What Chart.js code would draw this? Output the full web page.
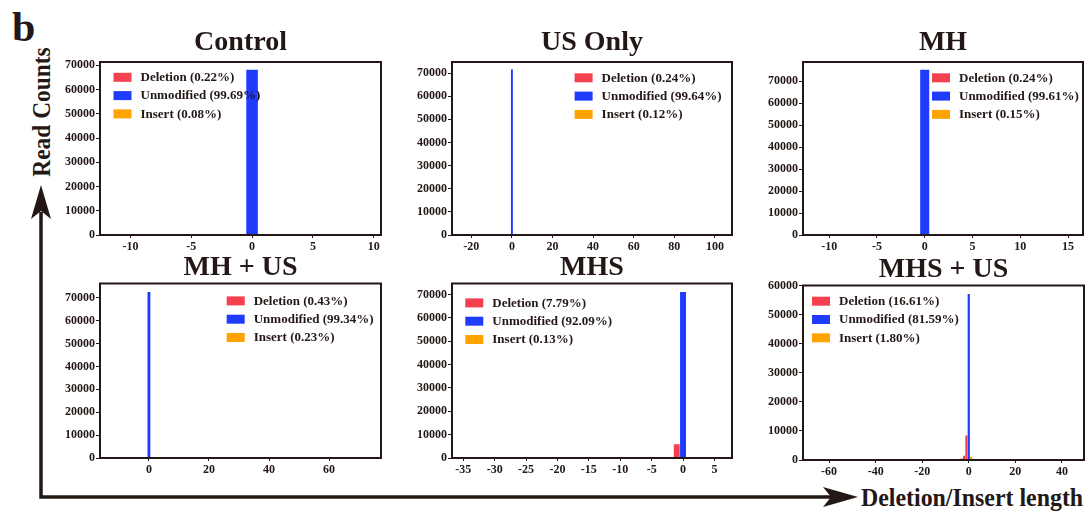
<!DOCTYPE html>
<html>
<head>
<meta charset="utf-8">
<script src="https://cdn.jsdelivr.net/npm/chart.js@4.4.1/dist/chart.umd.min.js"></script>
<style>
  body { margin: 0; background: #fff; }
  #page { position: relative; width: 1087px; height: 511px; overflow: hidden;
          font-family: 'Liberation Serif', 'Times New Roman', serif; font-weight: bold; color: #231815; }
  canvas { position: absolute; }
  .lbl { position: absolute; white-space: nowrap; line-height: 1; }
  #letter { left: 12px; top: 6px; font-size: 42px; }
  #yTitle { left: 42px; top: 112px; font-size: 26px; transform: translate(-50%, -50%) rotate(-90deg) scaleX(0.9); }
  #xTitle { left: 861px; top: 485px; font-size: 25px; transform: scaleX(0.955); transform-origin: left center; }
  svg { position: absolute; left: 0; top: 0; }
</style>
</head>
<body>
<div id="page">
  <svg width="1087" height="511">
    <polyline points="41,212 41,497 832,497" fill="none" stroke="#231815" stroke-width="3.5"/>
    <polygon points="41,185 31,219 41,211 51,219" fill="#231815"/>
    <polygon points="858,497 823,487 831,497 823,507" fill="#231815"/>
  </svg>
  <div class="lbl" id="letter">b</div>
  <div class="lbl" id="yTitle">Read Counts</div>
  <div class="lbl" id="xTitle">Deletion/Insert length</div>
  <canvas id="c0"></canvas>
  <canvas id="c1"></canvas>
  <canvas id="c2"></canvas>
  <canvas id="c3"></canvas>
  <canvas id="c4"></canvas>
  <canvas id="c5"></canvas>
</div>
<script>
// panel titles and legend percentages
var titles = ['Control', 'US Only', 'MH', 'MH + US', 'MHS', 'MHS + US'];
var deletionPct = ['0.22', '0.24', '0.24', '0.43', '7.79', '16.61'];
var unmodifiedPct = ['99.69', '99.64', '99.61', '99.34', '92.09', '81.59'];
var insertPct = ['0.08', '0.12', '0.15', '0.23', '0.13', '1.80'];

// [indel length, read count]
var controlDel = [[-1, 120], [-2, 20], [-3, 10]];
var controlUnmod = [[0, 68200]];
var controlIns = [[1, 55]];

var usDel = [[-1, 130], [-2, 25], [-3, 17]];
var usUnmod = [[0, 71600]];
var usIns = [[1, 70], [2, 16]];

var mhDel = [[-1, 140], [-2, 25], [-3, 16]];
var mhUnmod = [[0, 75200]];
var mhIns = [[1, 95], [2, 18]];

var mhusDel = [[-1, 230], [-2, 50], [-3, 34]];
var mhusUnmod = [[0, 72600]];
var mhusIns = [[1, 140], [2, 28]];

var mhsDel = [[-1, 5900], [-2, 60], [-3, 40]];
var mhsUnmod = [[0, 71100]];
var mhsIns = [[1, 100]];

var mhsusDel = [[-1, 8400], [-2, 1500], [-3, 500], [-4, 300], [-5, 200], [-6, 150], [-7, 150],
                [-8, 250], [-10, 100], [-15, 150], [-19, 250], [-20, 350], [-21, 150]];
var mhsusUnmod = [[0, 57100]];
var mhsusIns = [[1, 1100], [2, 120]];

var delSets = [controlDel, usDel, mhDel, mhusDel, mhsDel, mhsusDel];
var unmodSets = [controlUnmod, usUnmod, mhUnmod, mhusUnmod, mhsUnmod, mhsusUnmod];
var insSets = [controlIns, usIns, mhIns, mhusIns, mhsIns, mhsusIns];

// tick labels
var yTicks70 = [0, 10000, 20000, 30000, 40000, 50000, 60000, 70000];
var yTicks60 = [0, 10000, 20000, 30000, 40000, 50000, 60000];
var yTicks = [yTicks70, yTicks70, yTicks70, yTicks70, yTicks70, yTicks60];
var xTicks = [
	[-10, -5, 0, 5, 10],
	[-20, 0, 20, 40, 60, 80, 100],
	[-10, -5, 0, 5, 10, 15],
	[0, 20, 40, 60],
	[-35, -30, -25, -20, -15, -10, -5, 0, 5],
	[-60, -40, -20, 0, 20, 40]
];

// axis ranges
var xMin = [-12.5, -29.5, -12.74, -16.3, -36.8, -71.2];
var xMax = [10.6, 108.4, 16.57, 77.3, 7.8, 49.5];
var yMax = [71360, 74800, 78700, 76300, 74700, 60000];

var colours = ['#f5404f', '#1f3cfd', '#ffa300'];
var ink = '#231815';

// plot boxes on the page: left, top, right, bottom
var boxes = [
	[99.5, 62, 380, 234.5],
	[451.7, 61.5, 731.7, 234.5],
	[803.3, 61.5, 1083.3, 234.5],
	[100, 283.3, 381, 457.3],
	[451.7, 283.3, 731.7, 457.3],
	[802.7, 285, 1083.3, 459]
];
var titleGap = [5, 5, 5, 1.5, 1.5, 1.5];
var legendPos = [[13.5, 15.3], [122.6, 15.8], [129, 15.8], [126.7, 17.4], [13.3, 19.4], [9, 15.7]];

var YW = 44, XH = 22, PR = 8, PB = 2, TFONT = 28;

Chart.defaults.font.family = "'Liberation Serif', 'Times New Roman', serif";
Chart.defaults.font.weight = 'bold';
Chart.defaults.color = ink;

var framePlugin = {
	id: 'frame',
	afterDraw: function(chart) {
		var a = chart.chartArea, ctx = chart.ctx;
		ctx.save();
		ctx.strokeStyle = ink;
		ctx.lineWidth = 2;
		ctx.strokeRect(a.left, a.top, a.right - a.left, a.bottom - a.top);
		ctx.restore();
	}
};

var insideLegend = {
	id: 'insideLegend',
	afterDraw: function(chart, args, opts) {
		var a = chart.chartArea, ctx = chart.ctx;
		ctx.save();
		ctx.font = 'bold 13px "Liberation Serif", "Times New Roman", serif';
		ctx.textBaseline = 'middle';
		chart.data.datasets.forEach(function(ds, i) {
			var x = a.left + opts.x;
			var y = a.top + opts.y + i * 18.3;
			ctx.fillStyle = ds.backgroundColor;
			ctx.fillRect(x, y - 4.5, 18, 9);
			ctx.fillStyle = ink;
			ctx.fillText(ds.label, x + 27, y + 0.5);
		});
		ctx.restore();
	}
};

function toPoints(pairs)
{
	return pairs.map(function(p) { return {x: p[0], y: p[1]}; });
}

function tickSetter(values)
{
	return function(scale) {
		scale.ticks = values.map(function(v) { return {value: v}; });
	};
}

function makeDataset(label, pairs, colour)
{
	return {
		label: label,
		data: toPoints(pairs),
		backgroundColor: colour,
		borderWidth: 0,
		grouped: false,
		barPercentage: 1,
		categoryPercentage: 0.95
	};
}

titles.forEach(function(title, i)
{
	var b = boxes[i];
	var th = TFONT + titleGap[i];
	var cv = document.getElementById('c' + i);
	cv.width = Math.round(b[2] - b[0] + YW + PR);
	cv.height = Math.round(b[3] - b[1] + th + XH + PB);
	cv.style.left = (b[0] - YW) + 'px';
	cv.style.top = (b[1] - th) + 'px';

	new Chart(cv.getContext('2d'), {
		type: 'bar',
		data: {
			datasets: [
				makeDataset('Deletion (' + deletionPct[i] + '%)', delSets[i], colours[0]),
				makeDataset('Unmodified (' + unmodifiedPct[i] + '%)', unmodSets[i], colours[1]),
				makeDataset('Insert (' + insertPct[i] + '%)', insSets[i], colours[2])
			]
		},
		options: {
			responsive: false,
			animation: false,
			layout: { padding: { top: 0, right: PR, bottom: PB, left: 0 } },
			plugins: {
				legend: { display: false },
				tooltip: { enabled: false },
				title: {
					display: true,
					fullSize: false,
					text: title,
					color: ink,
					font: { size: TFONT, weight: 'bold', lineHeight: 1 },
					padding: { top: 0, bottom: titleGap[i] }
				},
				insideLegend: { x: legendPos[i][0], y: legendPos[i][1] }
			},
			scales: {
				x: {
					type: 'linear',
					offset: false,
					min: xMin[i],
					max: xMax[i],
					afterBuildTicks: tickSetter(xTicks[i]),
					ticks: {
						autoSkip: false, maxRotation: 0,
						padding: 2, font: { size: 12 }, color: ink,
						callback: function(v) { return v; }
					},
					grid: { display: true, offset: false, drawOnChartArea: false, drawTicks: true, tickLength: 3, color: ink },
					border: { display: false },
					afterFit: function(s) { s.height = XH; }
				},
				y: {
					min: 0,
					max: yMax[i],
					afterBuildTicks: tickSetter(yTicks[i]),
					ticks: {
						padding: 1, font: { size: 12 }, color: ink,
						callback: function(v) { return v; }
					},
					grid: { display: true, drawOnChartArea: false, drawTicks: true, tickLength: 4, color: ink },
					border: { display: false },
					afterFit: function(s) { s.width = YW; }
				}
			}
		},
		plugins: [framePlugin, insideLegend]
	});
});
</script>
</body>
</html>
